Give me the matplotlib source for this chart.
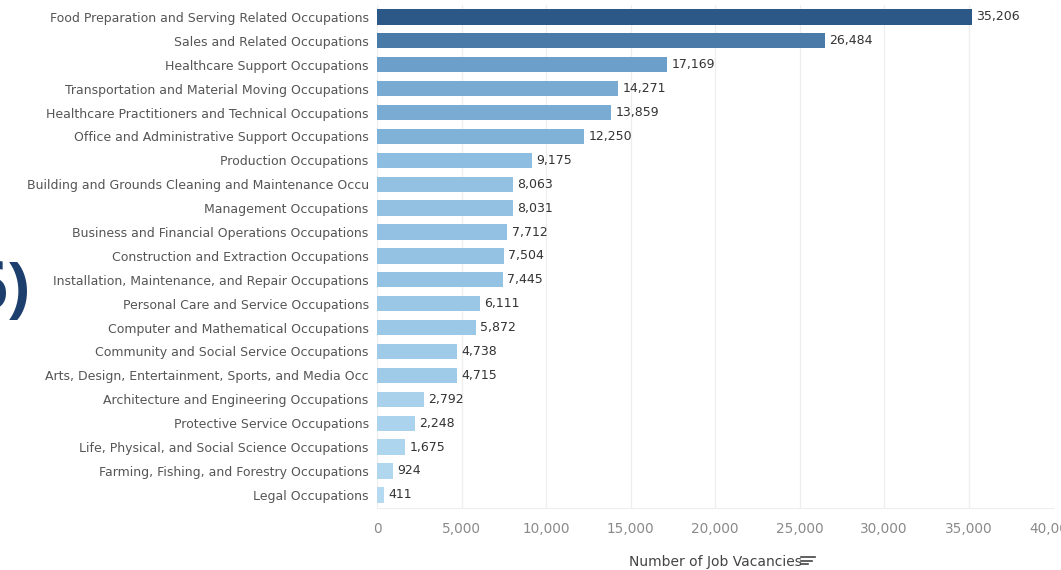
import matplotlib.pyplot as plt
from matplotlib.colors import LinearSegmentedColormap
from matplotlib.ticker import FuncFormatter

occupations = [
    'Food Preparation and Serving Related Occupations',
    'Sales and Related Occupations',
    'Healthcare Support Occupations',
    'Transportation and Material Moving Occupations',
    'Healthcare Practitioners and Technical Occupations',
    'Office and Administrative Support Occupations',
    'Production Occupations',
    'Building and Grounds Cleaning and Maintenance Occu',
    'Management Occupations',
    'Business and Financial Operations Occupations',
    'Construction and Extraction Occupations',
    'Installation, Maintenance, and Repair Occupations',
    'Personal Care and Service Occupations',
    'Computer and Mathematical Occupations',
    'Community and Social Service Occupations',
    'Arts, Design, Entertainment, Sports, and Media Occ',
    'Architecture and Engineering Occupations',
    'Protective Service Occupations',
    'Life, Physical, and Social Science Occupations',
    'Farming, Fishing, and Forestry Occupations',
    'Legal Occupations',
]
vacancies = [35206, 26484, 17169, 14271, 13859, 12250, 9175, 8063, 8031, 7712,
             7504, 7445, 6111, 5872, 4738, 4715, 2792, 2248, 1675, 924, 411]
x_ticks = [0, 5000, 10000, 15000, 20000, 25000, 30000, 35000, 40000]

plt.rcParams['font.family'] = ['DejaVu Sans']

# Tableau-like sequential blue
cmap = LinearSegmentedColormap.from_list(
    'tab_blue',
    [(0.0, '#b5daf1'), (0.25, '#8ebee1'), (0.5, '#6a9dc8'), (1.0, '#2b5886')])
vmax = max(vacancies)

fig = plt.figure(figsize=(10.61, 5.70), dpi=100)
ax = fig.add_axes([377 / 1061, 1 - 508 / 570, (1053 - 377) / 1061, (508 - 5) / 570])

ypos = list(range(len(occupations)))
colors = [cmap(v / vmax) for v in vacancies]
ax.barh(ypos, vacancies, height=0.64, color=colors, zorder=2)

for y, v in zip(ypos, vacancies):
    ax.text(v + 250, y, f'{v:,}', va='center', ha='left', fontsize=9,
            color='#333333', zorder=3)

ax.set_ylim(20.55, -0.5)
ax.set_xlim(0, 40000)
ax.set_yticks(ypos)
ax.set_yticklabels(occupations, fontsize=9, color='#555555')
ax.set_xticks(x_ticks)
ax.xaxis.set_major_formatter(FuncFormatter(lambda v, p: f'{v:,.0f}'))
ax.tick_params(axis='x', length=0, pad=10, labelsize=9.8, labelcolor='#8a8a8a')
ax.tick_params(axis='y', length=0, pad=6)
ax.grid(axis='x', color='#eeeeee', linewidth=0.9, zorder=0)
for s in ['top', 'right', 'left']:
    ax.spines[s].set_visible(False)
ax.spines['bottom'].set_color('#eeeeee')

ax.set_xlabel('Number of Job Vacancies', fontsize=10, color='#444444', labelpad=14)

# sort icon next to the axis title
for i, w in enumerate([14, 11, 7]):
    y0 = 1 - (557 + i * 3.5) / 570
    fig.add_artist(plt.Line2D([801 / 1061, (801 + w) / 1061], [y0, y0],
                              color='#444444', linewidth=1.2))

# cropped slide title fragment at left edge
fig.text(30 / 1061, 1 - 292 / 570, '6)', ha='right', va='center', fontsize=48,
         fontweight='bold', color='#1c3f6e', family=['Open Sans', 'DejaVu Sans'])

fig.savefig('out.png', dpi=100)
